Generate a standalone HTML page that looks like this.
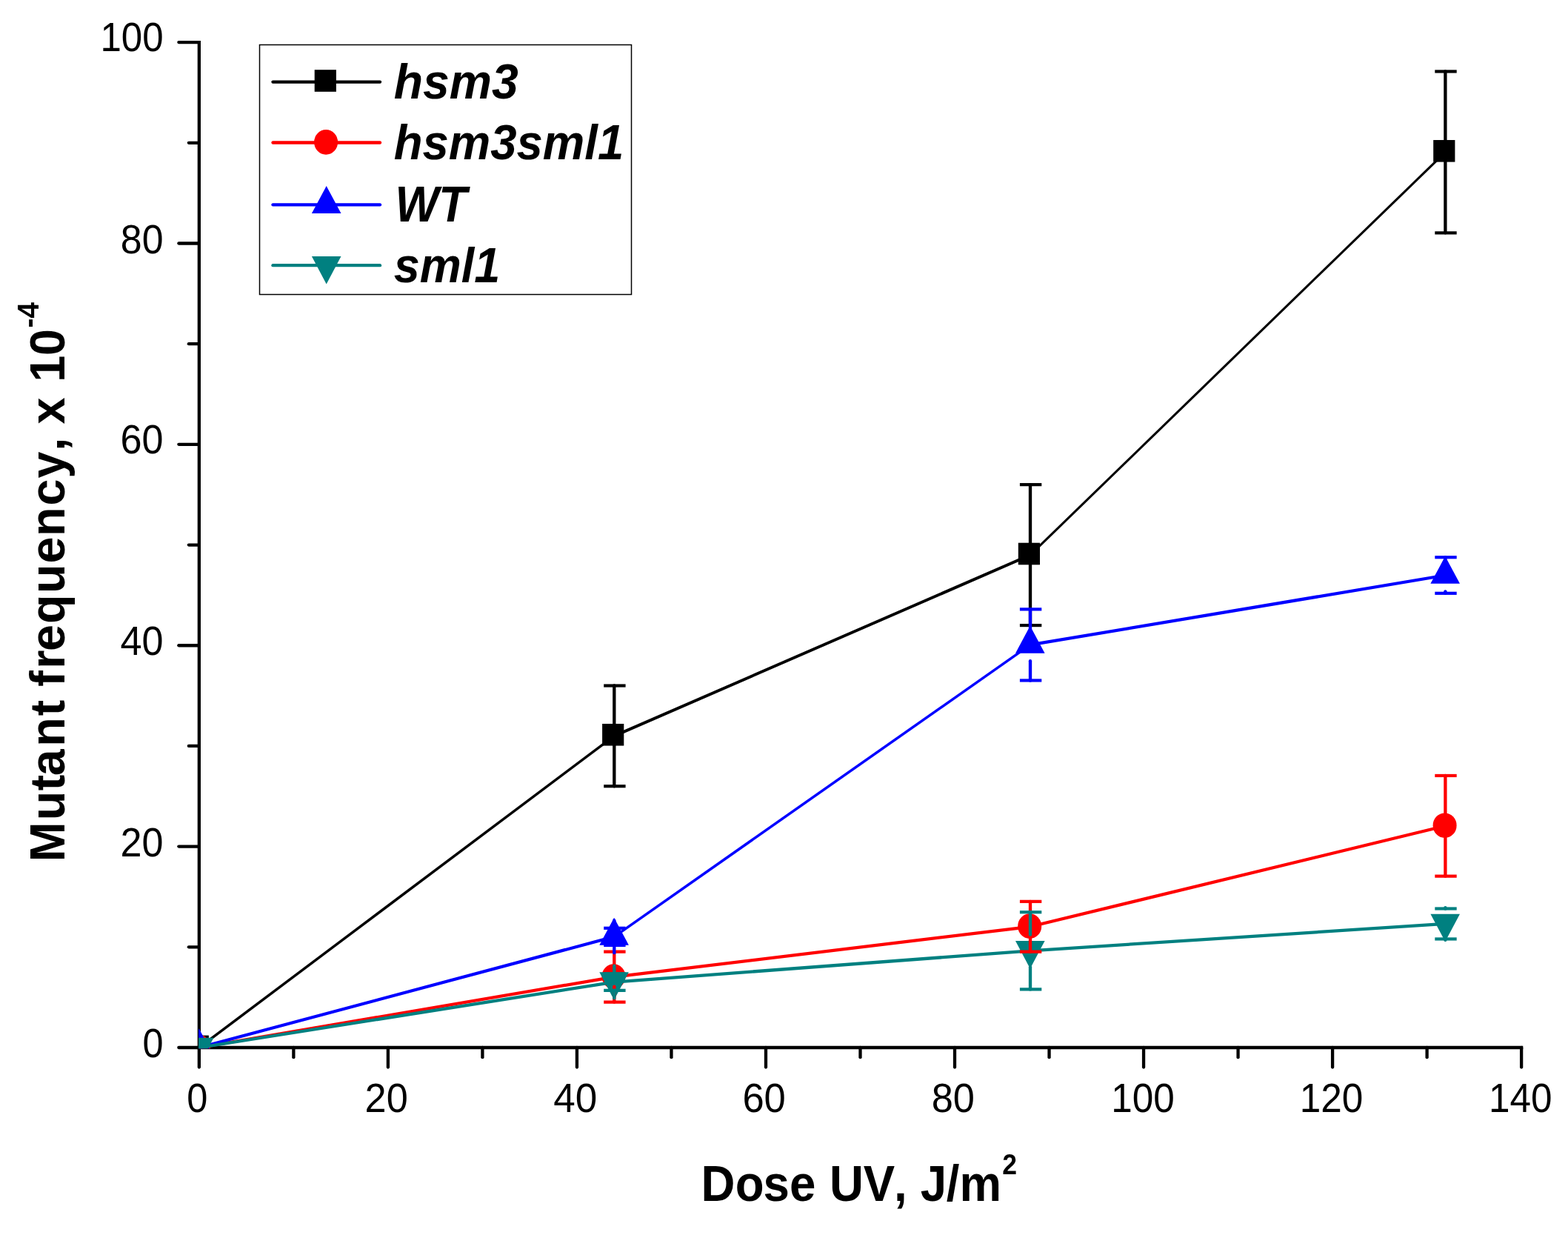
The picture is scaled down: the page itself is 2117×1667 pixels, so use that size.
<!DOCTYPE html>
<html lang="en"><head><meta charset="utf-8"><title>Mutant frequency vs Dose UV</title>
<style>html,body{margin:0;padding:0;background:#fff;}body{width:2117px;height:1667px;overflow:hidden;}svg{display:block;}text{font-family:"Liberation Sans",Arial,Helvetica,sans-serif;fill:#000;}</style></head><body>
<svg width="2117" height="1667" viewBox="0 0 2117 1667">
<rect x="0" y="0" width="2117" height="1667" fill="#fff"/>
<defs><clipPath id="plot"><rect x="268" y="0" width="1849" height="1415.2"/></clipPath></defs>
<g stroke="#000" stroke-width="4.3" stroke-linecap="butt" fill="none">
<line x1="268.85" y1="54.95" x2="268.85" y2="1416.15"/>
<line x1="266.7" y1="1414" x2="2056.28" y2="1414"/>
</g>
<g stroke="#000" stroke-width="4.3" stroke-linecap="round" fill="none">
<line x1="241.35" y1="1414" x2="268.85" y2="1414"/>
<line x1="254.85" y1="1278.31" x2="268.85" y2="1278.31"/>
<line x1="241.35" y1="1142.62" x2="268.85" y2="1142.62"/>
<line x1="254.85" y1="1006.93" x2="268.85" y2="1006.93"/>
<line x1="241.35" y1="871.24" x2="268.85" y2="871.24"/>
<line x1="254.85" y1="735.55" x2="268.85" y2="735.55"/>
<line x1="241.35" y1="599.86" x2="268.85" y2="599.86"/>
<line x1="254.85" y1="464.17" x2="268.85" y2="464.17"/>
<line x1="241.35" y1="328.48" x2="268.85" y2="328.48"/>
<line x1="254.85" y1="192.79" x2="268.85" y2="192.79"/>
<line x1="241.35" y1="57.1" x2="268.85" y2="57.1"/>
<line x1="268.85" y1="1414" x2="268.85" y2="1440.5"/>
<line x1="396.37" y1="1414" x2="396.37" y2="1427.2"/>
<line x1="523.89" y1="1414" x2="523.89" y2="1440.5"/>
<line x1="651.41" y1="1414" x2="651.41" y2="1427.2"/>
<line x1="778.93" y1="1414" x2="778.93" y2="1440.5"/>
<line x1="906.45" y1="1414" x2="906.45" y2="1427.2"/>
<line x1="1033.97" y1="1414" x2="1033.97" y2="1440.5"/>
<line x1="1161.49" y1="1414" x2="1161.49" y2="1427.2"/>
<line x1="1289.01" y1="1414" x2="1289.01" y2="1440.5"/>
<line x1="1416.53" y1="1414" x2="1416.53" y2="1427.2"/>
<line x1="1544.05" y1="1414" x2="1544.05" y2="1440.5"/>
<line x1="1671.57" y1="1414" x2="1671.57" y2="1427.2"/>
<line x1="1799.09" y1="1414" x2="1799.09" y2="1440.5"/>
<line x1="1926.61" y1="1414" x2="1926.61" y2="1427.2"/>
<line x1="2054.13" y1="1414" x2="2054.13" y2="1440.5"/>
</g>
<g>
<text x="135.38" y="68.6" textLength="85.22" lengthAdjust="spacingAndGlyphs" style="font-size:55.4px;">100</text>
<text x="162.86" y="341.6" textLength="57.73" lengthAdjust="spacingAndGlyphs" style="font-size:55.4px;">80</text>
<text x="162.61" y="612.4" textLength="57.99" lengthAdjust="spacingAndGlyphs" style="font-size:55.4px;">60</text>
<text x="162.52" y="883.6" textLength="58.08" lengthAdjust="spacingAndGlyphs" style="font-size:55.4px;">40</text>
<text x="162.61" y="1155.9" textLength="57.99" lengthAdjust="spacingAndGlyphs" style="font-size:55.4px;">20</text>
<text x="192.4" y="1426.9" textLength="28.08" lengthAdjust="spacingAndGlyphs" style="font-size:55.4px;">0</text>
</g>
<g>
<text x="252.35" y="1501.2" textLength="28.14" lengthAdjust="spacingAndGlyphs" style="font-size:55.4px;">0</text>
<text x="492.6" y="1501.2" textLength="58.2" lengthAdjust="spacingAndGlyphs" style="font-size:55.4px;">20</text>
<text x="747.2" y="1501.2" textLength="59.03" lengthAdjust="spacingAndGlyphs" style="font-size:55.4px;">40</text>
<text x="1002.39" y="1501.2" textLength="58.42" lengthAdjust="spacingAndGlyphs" style="font-size:55.4px;">60</text>
<text x="1257.64" y="1501.2" textLength="58.27" lengthAdjust="spacingAndGlyphs" style="font-size:55.4px;">80</text>
<text x="1500.27" y="1501.2" textLength="85.54" lengthAdjust="spacingAndGlyphs" style="font-size:55.4px;">100</text>
<text x="1754.66" y="1501.2" textLength="85.65" lengthAdjust="spacingAndGlyphs" style="font-size:55.4px;">120</text>
<text x="2010.07" y="1501.2" textLength="85.54" lengthAdjust="spacingAndGlyphs" style="font-size:55.4px;">140</text>
</g>
<text transform="scale(0.9344 1)" x="1012.88 1062.55 1102.77 1140.92 1178.75 1198.64 1247.55 1291.76 1310.67 1330.05 1367.43 1386.42" y="1620.9" style="font-size:68px;font-weight:bold;">Dose UV, J/m<tspan x="1448.26" y="1584.8" style="font-size:38px">2</tspan></text>
<text transform="rotate(-90) scale(0.9652 1)" x="-1205.21 -1147.1 -1105.73 -1085.01 -1044.16 -1001.2 -978.89 -960.25 -935.25 -910.76 -872.27 -829.87 -788 -750.04 -707.21 -668.78 -630.8 -612.18 -593.15 -555.88 -534.48 -497.21" y="87.5" style="font-size:67px;font-weight:bold;">Mutant frequency, x 10<tspan x="-458.37" y="52.2" style="font-size:40px">-4</tspan></text>
<g clip-path="url(#plot)">
<line x1="268.85" y1="1414" x2="829.3" y2="993.36" stroke="#000000" stroke-width="3.44" stroke-linecap="butt"/>
<line x1="829.3" y1="993.36" x2="1391" y2="749.12" stroke="#000000" stroke-width="3.94" stroke-linecap="butt"/>
<line x1="1391" y1="749.12" x2="1951.4" y2="205.41" stroke="#000000" stroke-width="3.09" stroke-linecap="butt"/>
<rect x="252.65" y="1397.6" width="29.2" height="29.6" fill="#000000"/>
<rect x="813.1" y="976.96" width="29.2" height="29.6" fill="#000000"/>
<rect x="1374.8" y="732.72" width="29.2" height="29.6" fill="#000000"/>
<rect x="1935.2" y="189.01" width="29.2" height="29.6" fill="#000000"/>
<line x1="268.85" y1="1414" x2="829.3" y2="1318.61" stroke="#ff0000" stroke-width="4.24" stroke-linecap="butt"/>
<line x1="829.3" y1="1318.61" x2="1391" y2="1250.76" stroke="#ff0000" stroke-width="4.27" stroke-linecap="butt"/>
<line x1="1391" y1="1250.76" x2="1951.4" y2="1114.8" stroke="#ff0000" stroke-width="4.18" stroke-linecap="butt"/>
<ellipse cx="268.05" cy="1413.4" rx="16" ry="16.8" fill="#ff0000"/>
<ellipse cx="828.5" cy="1318.01" rx="16" ry="16.8" fill="#ff0000"/>
<ellipse cx="1390.2" cy="1250.16" rx="16" ry="16.8" fill="#ff0000"/>
<ellipse cx="1950.6" cy="1114.2" rx="16" ry="16.8" fill="#ff0000"/>
<line x1="268.85" y1="1414" x2="829.3" y2="1264.33" stroke="#0000ff" stroke-width="4.15" stroke-linecap="butt"/>
<line x1="829.3" y1="1264.33" x2="1391" y2="870.43" stroke="#0000ff" stroke-width="3.52" stroke-linecap="butt"/>
<line x1="1391" y1="870.43" x2="1951.4" y2="776.53" stroke="#0000ff" stroke-width="4.24" stroke-linecap="butt"/>
<polygon points="268.65,1388.3 288.45,1425.3 248.85,1425.3" fill="#0000ff"/>
<polygon points="829.1,1238.63 848.9,1275.63 809.3,1275.63" fill="#0000ff"/>
<polygon points="1390.8,844.73 1410.6,881.73 1371,881.73" fill="#0000ff"/>
<polygon points="1951.2,750.83 1971,787.83 1931.4,787.83" fill="#0000ff"/>
<line x1="268.85" y1="1414" x2="829.3" y2="1325.53" stroke="#008080" stroke-width="4.25" stroke-linecap="butt"/>
<line x1="829.3" y1="1325.53" x2="1391" y2="1283.33" stroke="#008080" stroke-width="4.29" stroke-linecap="butt"/>
<line x1="1391" y1="1283.33" x2="1951.4" y2="1246.97" stroke="#008080" stroke-width="4.29" stroke-linecap="butt"/>
<polygon points="268.65,1438.1 288.45,1400.7 248.85,1400.7" fill="#008080"/>
<polygon points="829.1,1349.63 848.9,1312.23 809.3,1312.23" fill="#008080"/>
<polygon points="1390.8,1307.43 1410.6,1270.03 1371,1270.03" fill="#008080"/>
<polygon points="1951.2,1271.07 1971,1233.67 1931.4,1233.67" fill="#008080"/>
<g stroke="#000000" stroke-width="4.34" stroke-linecap="round" fill="none">
<line x1="829.3" y1="980.36" x2="829.3" y2="925.52"/>
<line x1="815.2" y1="925.52" x2="844.6" y2="925.52" stroke-linecap="butt" stroke-width="4.2"/>
<line x1="829.3" y1="1006.36" x2="829.3" y2="1061.21"/>
<line x1="815.2" y1="1061.21" x2="844.6" y2="1061.21" stroke-linecap="butt" stroke-width="4.2"/>
<line x1="1391" y1="736.12" x2="1391" y2="654.14"/>
<line x1="1376.9" y1="654.14" x2="1406.3" y2="654.14" stroke-linecap="butt" stroke-width="4.2"/>
<line x1="1391" y1="762.12" x2="1391" y2="844.1"/>
<line x1="1376.9" y1="844.1" x2="1406.3" y2="844.1" stroke-linecap="butt" stroke-width="4.2"/>
<line x1="1951.4" y1="192.41" x2="1951.4" y2="96.45"/>
<line x1="1937.3" y1="96.45" x2="1966.7" y2="96.45" stroke-linecap="butt" stroke-width="4.2"/>
<line x1="1951.4" y1="218.41" x2="1951.4" y2="314.37"/>
<line x1="1937.3" y1="314.37" x2="1966.7" y2="314.37" stroke-linecap="butt" stroke-width="4.2"/>
</g>
<g stroke="#ff0000" stroke-width="4.34" stroke-linecap="round" fill="none">
<line x1="829.3" y1="1305.61" x2="829.3" y2="1284.69"/>
<line x1="815.2" y1="1284.69" x2="844.6" y2="1284.69" stroke-linecap="butt" stroke-width="4.2"/>
<line x1="829.3" y1="1331.61" x2="829.3" y2="1352.53"/>
<line x1="815.2" y1="1352.53" x2="844.6" y2="1352.53" stroke-linecap="butt" stroke-width="4.2"/>
<line x1="1391" y1="1237.76" x2="1391" y2="1216.84"/>
<line x1="1376.9" y1="1216.84" x2="1406.3" y2="1216.84" stroke-linecap="butt" stroke-width="4.2"/>
<line x1="1391" y1="1263.76" x2="1391" y2="1284.69"/>
<line x1="1376.9" y1="1284.69" x2="1406.3" y2="1284.69" stroke-linecap="butt" stroke-width="4.2"/>
<line x1="1951.4" y1="1101.8" x2="1951.4" y2="1046.96"/>
<line x1="1937.3" y1="1046.96" x2="1966.7" y2="1046.96" stroke-linecap="butt" stroke-width="4.2"/>
<line x1="1951.4" y1="1127.8" x2="1951.4" y2="1182.65"/>
<line x1="1937.3" y1="1182.65" x2="1966.7" y2="1182.65" stroke-linecap="butt" stroke-width="4.2"/>
</g>
<g stroke="#0000ff" stroke-width="4.34" stroke-linecap="round" fill="none">
<line x1="829.3" y1="1242.53" x2="829.3" y2="1252.8"/>
<line x1="815.2" y1="1252.8" x2="844.6" y2="1252.8" stroke-linecap="butt" stroke-width="4.2"/>
<line x1="829.3" y1="1286.13" x2="829.3" y2="1275.87"/>
<line x1="815.2" y1="1275.87" x2="844.6" y2="1275.87" stroke-linecap="butt" stroke-width="4.2"/>
<line x1="1391" y1="848.63" x2="1391" y2="822.39"/>
<line x1="1376.9" y1="822.39" x2="1406.3" y2="822.39" stroke-linecap="butt" stroke-width="4.2"/>
<line x1="1391" y1="892.23" x2="1391" y2="918.46"/>
<line x1="1376.9" y1="918.46" x2="1406.3" y2="918.46" stroke-linecap="butt" stroke-width="4.2"/>
<line x1="1951.4" y1="754.73" x2="1951.4" y2="752.24"/>
<line x1="1937.3" y1="752.24" x2="1966.7" y2="752.24" stroke-linecap="butt" stroke-width="4.2"/>
<line x1="1951.4" y1="798.33" x2="1951.4" y2="800.82"/>
<line x1="1937.3" y1="800.82" x2="1966.7" y2="800.82" stroke-linecap="butt" stroke-width="4.2"/>
</g>
<g stroke="#008080" stroke-width="4.34" stroke-linecap="round" fill="none">
<line x1="829.3" y1="1303.73" x2="829.3" y2="1314.27"/>
<line x1="815.2" y1="1314.27" x2="844.6" y2="1314.27" stroke-linecap="butt" stroke-width="4.2"/>
<line x1="829.3" y1="1347.33" x2="829.3" y2="1336.79"/>
<line x1="815.2" y1="1336.79" x2="844.6" y2="1336.79" stroke-linecap="butt" stroke-width="4.2"/>
<line x1="1391" y1="1261.53" x2="1391" y2="1231.23"/>
<line x1="1376.9" y1="1231.23" x2="1406.3" y2="1231.23" stroke-linecap="butt" stroke-width="4.2"/>
<line x1="1391" y1="1305.13" x2="1391" y2="1335.44"/>
<line x1="1376.9" y1="1335.44" x2="1406.3" y2="1335.44" stroke-linecap="butt" stroke-width="4.2"/>
<line x1="1951.4" y1="1225.17" x2="1951.4" y2="1226.48"/>
<line x1="1937.3" y1="1226.48" x2="1966.7" y2="1226.48" stroke-linecap="butt" stroke-width="4.2"/>
<line x1="1951.4" y1="1268.77" x2="1951.4" y2="1267.45"/>
<line x1="1937.3" y1="1267.45" x2="1966.7" y2="1267.45" stroke-linecap="butt" stroke-width="4.2"/>
</g>
</g>
<rect x="350.5" y="60.5" width="502" height="337" fill="#fff" stroke="#000" stroke-width="1.5"/>
<g><line x1="368.5" y1="110.6" x2="513" y2="110.6" stroke="#000000" stroke-width="4.34" stroke-linecap="round"/>
<rect x="424.7" y="94.2" width="29.2" height="29.6" fill="#000000"/></g>
<text x="531.63" y="133.45" textLength="168.12" lengthAdjust="spacingAndGlyphs" style="font-size:66px;font-weight:bold;font-style:italic;">hsm3</text>
<g><line x1="368.5" y1="192.5" x2="513" y2="192.5" stroke="#ff0000" stroke-width="4.34" stroke-linecap="round"/>
<ellipse cx="440.1" cy="191.9" rx="16" ry="16.8" fill="#ff0000"/></g>
<text x="531.65" y="215.35" textLength="310.63" lengthAdjust="spacingAndGlyphs" style="font-size:66px;font-weight:bold;font-style:italic;">hsm3sml1</text>
<g><line x1="368.5" y1="276.3" x2="513" y2="276.3" stroke="#0000ff" stroke-width="4.34" stroke-linecap="round"/>
<polygon points="440.7,251.1 460.5,288.1 420.9,288.1" fill="#0000ff"/></g>
<text x="533.44" y="298.9" textLength="97.03" lengthAdjust="spacingAndGlyphs" style="font-size:68.5px;font-weight:bold;font-style:italic;">WT</text>
<g><line x1="368.5" y1="358.2" x2="513" y2="358.2" stroke="#008080" stroke-width="4.34" stroke-linecap="round"/>
<polygon points="440.7,383.4 460.5,346 420.9,346" fill="#008080"/></g>
<text x="531.78" y="380.8" textLength="143.53" lengthAdjust="spacingAndGlyphs" style="font-size:66px;font-weight:bold;font-style:italic;">sml1</text>
</svg></body></html>
